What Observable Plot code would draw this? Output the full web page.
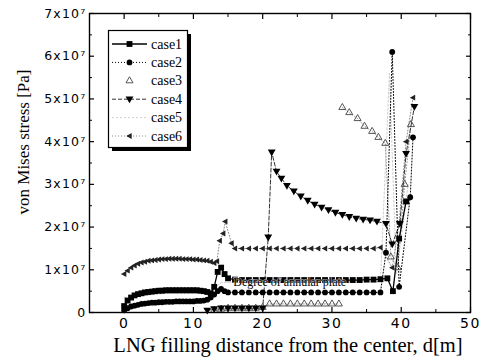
<!DOCTYPE html>
<html><head><meta charset="utf-8">
<script src="https://cdn.jsdelivr.net/npm/d3@7"></script>
<script src="https://cdn.jsdelivr.net/npm/@observablehq/plot@0.6"></script>
<style>
body{margin:0;background:#fff;}
#wrap{position:relative;width:483px;height:360px;overflow:hidden;}
#wrap svg.leg{position:absolute;left:0;top:0;pointer-events:none;}
g[aria-label="y-axis tick label"] text{letter-spacing:1.2px}
g[aria-label="x-axis tick label"] text{letter-spacing:1.5px}
</style></head><body><div id="wrap"></div>
<script>
// ---- data (stress in units of 1e7 Pa, distance in m) ----
const caseNames = ["case1","case2","case3","case4","case5","case6"];
const case1 = [[0,0.15],[0.5,0.28],[1,0.35],[1.5,0.4],[2,0.43],[2.5,0.45],[3,0.47],[3.5,0.48],[4,0.49],[4.5,0.5],[5,0.51],[5.5,0.51],[6,0.52],[6.5,0.52],[7,0.52],[7.5,0.52],[8,0.52],[8.5,0.52],[9,0.52],[9.5,0.52],[10,0.52],[10.5,0.52],[11,0.51],[11.5,0.5],[12,0.48],[12.5,0.45],[13,0.6],[13.5,0.95],[14,1.05],[14.5,0.9],[15,0.8],[16,0.77],[17,0.76],[18,0.76],[19,0.76],[20,0.76],[21,0.76],[22,0.76],[23,0.76],[24,0.76],[25,0.76],[26,0.76],[27,0.76],[28,0.76],[29,0.76],[30,0.76],[31,0.76],[32,0.76],[33,0.76],[34,0.76],[35,0.77],[36,0.77],[37,0.78],[38,0.8],[38.8,0.5],[39.7,1.73],[40.7,2.6]];
const case2 = [[0,0.05],[0.5,0.1],[1,0.14],[1.5,0.16],[2,0.18],[2.5,0.2],[3,0.21],[3.5,0.22],[4,0.23],[4.5,0.23],[5,0.24],[5.5,0.24],[6,0.25],[6.5,0.25],[7,0.25],[7.5,0.26],[8,0.26],[8.5,0.26],[9,0.26],[9.5,0.26],[10,0.26],[10.5,0.27],[11,0.27],[11.5,0.28],[12,0.3],[12.5,0.35],[13,0.42],[13.5,0.5],[14,0.55],[14.5,0.5],[15,0.47],[16,0.47],[17,0.47],[18,0.47],[19,0.47],[20,0.47],[21,0.47],[22,0.47],[23,0.47],[24,0.47],[25,0.47],[26,0.47],[27,0.47],[28,0.47],[29,0.47],[30,0.47],[31,0.47],[32,0.47],[33,0.47],[34,0.47],[35,0.47],[36,0.47],[37,0.47],[37.8,1.4],[38.7,6.1],[39.7,0.6],[41.3,2.7],[41.7,4.1]];
const case3 = [[13,0.05],[14,0.08],[15,0.1],[16,0.1],[17,0.1],[18,0.1],[19,0.1],[20,0.12],[21,0.2],[22,0.2],[23,0.2],[24,0.2],[25,0.2],[26,0.2],[27,0.2],[28,0.2],[29,0.2],[30,0.2],[31,0.2],[31.2,NaN],[31.5,4.8],[32.5,4.68],[33.7,4.54],[34.7,4.36],[35.8,4.24],[36.7,4.1],[37.7,3.96],[38.5,1.3],[39.5,1.05],[40.5,3.0],[41.4,4.4]];
const case4 = [[12,0.05],[13,0.08],[14,0.1],[15,0.1],[16,0.1],[17,0.1],[18,0.1],[19,0.1],[20,0.1],[20.8,1.76],[21.3,3.75],[22,3.3],[22.7,3.14],[23.5,2.97],[24.5,2.84],[25.5,2.72],[26.5,2.62],[27.5,2.53],[28.5,2.46],[29.5,2.4],[30.5,2.34],[31.5,2.29],[32.5,2.24],[33.5,2.2],[34.5,2.18],[35.5,2.16],[36.5,2.13],[37.8,2.08],[38.7,1.6],[39.8,2.08],[40.7,3.72],[41.9,4.82]];
const case5 = [[0,0.35],[6,0.45],[12,0.45],[14,0.7],[37,0.72],[38.3,5.6],[39.3,0.9],[41,3.0]];
const case6 = [[0,0.9],[0.5,0.98],[1,1.05],[1.5,1.1],[2,1.14],[2.5,1.17],[3,1.19],[3.5,1.21],[4,1.22],[4.5,1.23],[5,1.24],[5.5,1.25],[6,1.25],[6.5,1.26],[7,1.26],[7.5,1.26],[8,1.26],[8.5,1.25],[9,1.25],[9.5,1.25],[10,1.24],[10.5,1.24],[11,1.23],[11.5,1.22],[12,1.21],[12.5,1.19],[13,1.16],[13.4,1.2],[13.8,1.68],[14.3,1.85],[14.6,2.13],[15.5,1.62],[16,1.5],[17,1.5],[18,1.5],[19,1.5],[20,1.5],[21,1.5],[22,1.5],[23,1.5],[24,1.5],[25,1.5],[26,1.5],[27,1.5],[28,1.5],[29,1.5],[30,1.5],[31,1.5],[32,1.5],[33,1.5],[34,1.5],[35,1.5],[36,1.5],[37,1.52],[38.7,1.05],[39.7,2.1],[40.7,4.0],[41.7,5.03]];
const annotations = [{x: 23.9, y: 0.7, text: "Degree of annular plate"}];
const majorY = [0,1,2,3,4,5,6,7];
const yTickLabels = ["0","1x10\u2077","2x10\u2077","3x10\u2077","4x10\u2077","5x10\u2077","6x10\u2077","7x10\u2077"];
const minorY = [0.5,1.5,2.5,3.5,4.5,5.5,6.5];
const majorX = [0,10,20,30,40,50];
const minorX = [5,15,25,35,45];
const xTitle = "LNG filling distance from the center, d[m]";
const yTitle = "von Mises stress [Pa]";

// ---- symbols & styles ----
const triDown = {draw(c, size){ const r = Math.sqrt(size/Math.PI); c.moveTo(-r*1.15,-r*0.8); c.lineTo(r*1.15,-r*0.8); c.lineTo(0,r*1.2); c.closePath(); }};
const triLeft = {draw(c, size){ const r = Math.sqrt(size/Math.PI); c.moveTo(r*0.8,-r*1.1); c.lineTo(r*0.8,r*1.1); c.lineTo(-r*1.2,0); c.closePath(); }};
const seriesData = [case1, case2, case3, case4, case5, case6];
const styles = [
  {line:{stroke:"#000", strokeWidth:1.3}, dot:{symbol:"square", r:3.3, fill:"#000"}},
  {line:{stroke:"#000", strokeWidth:1, strokeDasharray:"1,2"}, dot:{symbol:"circle", r:2.9, fill:"#000"}},
  {line:{stroke:"#999", strokeWidth:1, strokeDasharray:"1,2"}, dot:{symbol:"triangle", r:2.6, fill:"none", stroke:"#444", strokeWidth:0.9}},
  {line:{stroke:"#333", strokeWidth:1, strokeDasharray:"4,2"}, dot:{symbol:triDown, r:3.4, fill:"#000"}},
  {line:{stroke:"#cfcfcf", strokeWidth:1, strokeDasharray:"2,2"}, dot:null},
  {line:{stroke:"#888", strokeWidth:1, strokeDasharray:"1,2"}, dot:{symbol:triLeft, r:2.7, fill:"#222"}}
];

const serif = "Liberation Serif, Times New Roman, serif";
const sans = "DejaVu Sans, sans-serif";
const order = [4,5,2,3,1,0];
const marks = [];
for (const i of order) {
  marks.push(Plot.line(seriesData[i], {x: d => d[0], y: d => d[1], ...styles[i].line}));
}
for (const i of order) {
  if (styles[i].dot) marks.push(Plot.dot(seriesData[i].filter(d => !isNaN(d[1])), {x: d => d[0], y: d => d[1], ...styles[i].dot}));
}
marks.push(Plot.text(annotations, {x:"x", y:"y", text:"text", fontFamily: serif, fontSize: 12, fill:"#000", stroke:"#fff", strokeWidth:1.5, strokeOpacity:0.6}));
// axes
marks.push(
  Plot.axisY({anchor:"left", ticks: majorY, tickSize:0, tickPadding:3, tickFormat: d => yTickLabels[majorY.indexOf(d)], fontSize:12.5, fontFamily: sans, label:null}),
  Plot.axisY({anchor:"left", ticks: majorY, tickSize:5, dx:5, text:null, label:null, strokeWidth:1.2}),
  Plot.axisY({anchor:"left", ticks: minorY, tickSize:3, dx:3, text:null, label:null}),
  Plot.axisY({anchor:"right", ticks: majorY, tickSize:5, dx:-5, text:null, label:null, strokeWidth:1.2}),
  Plot.axisY({anchor:"right", ticks: minorY, tickSize:3, dx:-3, text:null, label:null}),
  Plot.axisX({anchor:"bottom", ticks: majorX, tickSize:0, tickPadding:6, fontSize:14, fontFamily: sans, label:null}),
  Plot.axisX({anchor:"bottom", ticks: majorX, tickSize:5, dy:-5, text:null, label:null, strokeWidth:1.2}),
  Plot.axisX({anchor:"bottom", ticks: minorX, tickSize:3, dy:-3, text:null, label:null}),
  Plot.axisX({anchor:"top", ticks: majorX, tickSize:5, dy:5, text:null, label:null, strokeWidth:1.2}),
  Plot.axisX({anchor:"top", ticks: minorX, tickSize:3, dy:3, text:null, label:null}),
  Plot.frame({stroke:"#000", strokeWidth:1.4}),
  Plot.text([yTitle], {text: d => d, frameAnchor:"left", textAnchor:"middle", lineAnchor:"middle", rotate:-90, dx:-66, dy:-21, fontSize:17, fontFamily: serif, fill:"#000"}),
  Plot.text([xTitle], {text: d => d, frameAnchor:"bottom", textAnchor:"middle", lineAnchor:"middle", dx:8, dy:33, fontSize:20.5, fontFamily: serif, fill:"#000"})
);

const chart = Plot.plot({
  width: 483, height: 360,
  marginLeft: 89, marginRight: 13, marginTop: 13, marginBottom: 48,
  x: {domain: [-5, 50]},
  y: {domain: [0, 7]},
  style: {background:"#fff", color:"#000", fontFamily: sans, overflow:"visible"},
  marks
});
const wrap = document.getElementById("wrap");
wrap.appendChild(chart);

// ---- legend overlay ----
const leg = d3.select(wrap).append("svg").attr("class","leg").attr("width",483).attr("height",360);
const bx = 108.5, by = 30.5, bw = 79, bh = 117;
leg.append("rect").attr("x",bx+3.5).attr("y",by+3.5).attr("width",bw).attr("height",bh).attr("fill","#000");
leg.append("rect").attr("x",bx).attr("y",by).attr("width",bw).attr("height",bh).attr("fill","#fff").attr("stroke","#000").attr("stroke-width",1.2);
caseNames.forEach((name, i) => {
  const y = 44 + i*18.4;
  const st = styles[i];
  const ln = leg.append("line").attr("x1",112).attr("x2",147).attr("y1",y).attr("y2",y)
    .attr("stroke", st.line.stroke).attr("stroke-width", st.line.strokeWidth);
  if (st.line.strokeDasharray) ln.attr("stroke-dasharray", st.line.strokeDasharray);
  if (i === 2) ln.attr("stroke","none");
  if (st.dot) {
    const sym = st.dot.symbol === "square" ? d3.symbolSquare : st.dot.symbol === "circle" ? d3.symbolCircle : st.dot.symbol === "triangle" ? d3.symbolTriangle : st.dot.symbol;
    const p = leg.append("path").attr("transform",`translate(129.5,${y})`)
      .attr("d", d3.symbol(sym, Math.PI*st.dot.r*st.dot.r)())
      .attr("fill", st.dot.fill);
    if (st.dot.stroke) p.attr("stroke", st.dot.stroke).attr("stroke-width", st.dot.strokeWidth);
  }
  leg.append("text").attr("x",151).attr("y",y+4.5).attr("font-family",serif).attr("font-size",14).attr("fill","#000").text(name);
});
</script></body></html>
